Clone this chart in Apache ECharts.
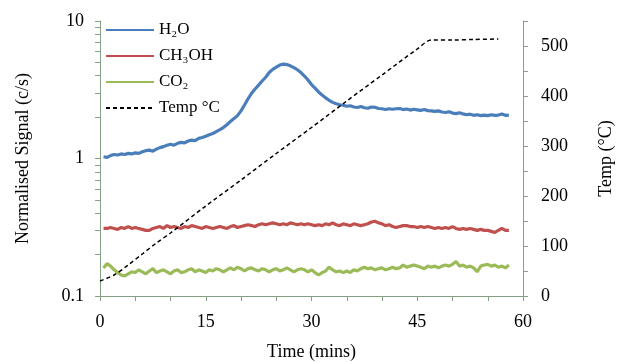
<!DOCTYPE html>
<html><head><meta charset="utf-8">
<script src="https://cdn.jsdelivr.net/npm/echarts@6/dist/echarts.min.js"></script>
<style>html,body{margin:0;padding:0;background:#fff}#c{width:622px;height:362px}</style>
</head><body><div id="c"></div>
<script>
// sampling grid of the signal traces: 0.5 .. 58 min, every 0.5 min
var sampleStart = 0.5, sampleStep = 0.5, sampleCount = 116;
var times = [];
for (var i = 0; i < sampleCount; i++) times.push(+(sampleStart + i * sampleStep).toFixed(1));

var h2o = [
 1.03,1.02,1.05,1.07,1.06,1.08,1.07,1.09,1.08,1.10,
 1.09,1.12,1.14,1.15,1.13,1.17,1.20,1.22,1.25,1.27,
 1.25,1.29,1.31,1.30,1.34,1.36,1.35,1.40,1.42,1.45,
 1.49,1.52,1.57,1.62,1.68,1.76,1.86,1.95,2.05,2.22,
 2.45,2.72,2.98,3.20,3.42,3.66,3.90,4.22,4.45,4.62,
 4.78,4.86,4.82,4.72,4.58,4.42,4.22,3.98,3.72,3.45,
 3.25,3.05,2.90,2.76,2.65,2.56,2.50,2.46,2.44,2.40,
 2.42,2.37,2.35,2.39,2.34,2.32,2.37,2.36,2.31,2.30,
 2.27,2.30,2.28,2.30,2.31,2.27,2.29,2.25,2.28,2.26,
 2.24,2.27,2.23,2.22,2.20,2.22,2.18,2.16,2.19,2.14,
 2.12,2.15,2.11,2.08,2.10,2.06,2.08,2.05,2.07,2.05,
 2.08,2.06,2.07,2.11,2.06,2.07
];
var ch3oh = [
 0.31,0.31,0.315,0.31,0.305,0.315,0.31,0.32,0.31,0.315,
 0.31,0.305,0.30,0.30,0.31,0.315,0.32,0.31,0.325,0.315,
 0.32,0.315,0.31,0.32,0.315,0.325,0.32,0.315,0.31,0.32,
 0.315,0.31,0.315,0.32,0.315,0.31,0.32,0.325,0.315,0.32,
 0.325,0.33,0.325,0.32,0.33,0.335,0.33,0.335,0.34,0.335,
 0.33,0.335,0.33,0.34,0.335,0.33,0.335,0.33,0.335,0.33,
 0.325,0.33,0.325,0.335,0.33,0.34,0.33,0.325,0.335,0.33,
 0.325,0.335,0.33,0.325,0.33,0.335,0.345,0.35,0.34,0.335,
 0.325,0.33,0.32,0.315,0.32,0.325,0.325,0.32,0.32,0.315,
 0.32,0.315,0.32,0.315,0.31,0.315,0.31,0.315,0.31,0.32,
 0.31,0.305,0.31,0.305,0.31,0.305,0.30,0.305,0.30,0.30,
 0.295,0.29,0.30,0.31,0.30,0.30
];
var co2 = [
 0.16,0.172,0.165,0.155,0.148,0.142,0.14,0.145,0.15,0.148,
 0.155,0.15,0.145,0.152,0.158,0.148,0.152,0.155,0.15,0.145,
 0.152,0.155,0.148,0.15,0.155,0.158,0.15,0.155,0.152,0.148,
 0.155,0.152,0.158,0.155,0.15,0.155,0.16,0.155,0.162,0.158,
 0.152,0.158,0.16,0.155,0.152,0.158,0.155,0.15,0.155,0.158,
 0.152,0.155,0.16,0.155,0.15,0.155,0.158,0.155,0.15,0.155,
 0.148,0.142,0.148,0.152,0.162,0.155,0.15,0.152,0.148,0.152,
 0.148,0.155,0.152,0.158,0.162,0.158,0.16,0.155,0.158,0.16,
 0.155,0.158,0.162,0.158,0.16,0.168,0.162,0.165,0.168,0.165,
 0.162,0.158,0.165,0.162,0.165,0.16,0.165,0.168,0.165,0.17,
 0.178,0.165,0.168,0.162,0.165,0.16,0.15,0.165,0.168,0.17,
 0.165,0.168,0.162,0.165,0.16,0.168
];
var tempTimes = [0, 2, 4, 6, 8, 10, 15, 20, 25, 30, 35, 40, 45, 47, 50, 53, 56.5];
var tempVals  = [30, 42, 62, 84, 106, 126, 180, 232, 285, 337, 390, 442, 494, 512, 512, 513, 514];

var xTickLabels = [0, 15, 30, 45, 60];
var leftTickLabels = [0.1, 1, 10];
var leftMinorTicks = [0.1,0.2,0.3,0.4,0.5,0.6,0.7,0.8,0.9,1,2,3,4,5,6,7,8,9,10];
var rightTickLabels = [0, 100, 200, 300, 400, 500];

function pairs(xs, ys) { return ys.map(function (v, k) { return [xs[k], v]; }); }

var font = 'Liberation Serif';
var axisColor = '#86a086';
var chart = echarts.init(document.getElementById('c'), null, { renderer: 'canvas' });
chart.setOption({
  animation: false,
  backgroundColor: '#fff',
  textStyle: { fontFamily: font, color: '#000' },
  grid: { left: 100, right: 99, top: 21, bottom: 66, containLabel: false, outerBoundsMode: 'none' },
  legend: {
    orient: 'vertical', left: 100, top: 16,
    itemWidth: 48, itemHeight: 14, itemGap: 8,
    itemStyle: { opacity: 0 },
    textStyle: { fontFamily: font, fontSize: 17, color: '#000', lineHeight: 18 },
    data: ['H₂O', 'CH₃OH', 'CO₂', 'Temp °C']
  },
  xAxis: {
    type: 'value', min: 0, max: 60, interval: 5,
    name: 'Time (mins)', nameLocation: 'middle', nameGap: 47,
    nameTextStyle: { fontFamily: font, fontSize: 18, color: '#000' },
    axisLine: { show: true, lineStyle: { color: axisColor, width: 1 } },
    axisTick: { show: true, length: 5, lineStyle: { color: axisColor } },
    axisLabel: { customValues: xTickLabels, fontFamily: font, fontSize: 18, color: '#000', margin: 17 },
    splitLine: { show: false }
  },
  yAxis: [{
    type: 'log', logBase: 10, min: 0.1, max: 10, position: 'left',
    name: 'Normalised Signal (c/s)', nameLocation: 'middle', nameGap: 68, nameRotate: 90,
    nameTextStyle: { fontFamily: font, fontSize: 18, color: '#000' },
    axisLine: { show: true, lineStyle: { color: axisColor, width: 1 } },
    axisTick: { show: true, length: 5, customValues: leftMinorTicks, lineStyle: { color: axisColor } },
    axisLabel: { customValues: leftTickLabels, fontFamily: font, fontSize: 18, color: '#000', margin: 16,
      formatter: function (v) { return String(+(+v).toPrecision(3)); } },
    splitLine: { show: false }
  }, {
    type: 'value', min: 0, max: 550, interval: 50, position: 'right',
    name: 'Temp (°C)', nameLocation: 'middle', nameGap: 74, nameRotate: 90,
    nameTextStyle: { fontFamily: font, fontSize: 18, color: '#000' },
    axisLine: { show: true, lineStyle: { color: axisColor, width: 1 } },
    axisTick: { show: true, length: 5, lineStyle: { color: axisColor } },
    axisLabel: { customValues: rightTickLabels, fontFamily: font, fontSize: 18, color: '#000', margin: 18 },
    splitLine: { show: false }
  }],
  series: [
    { name: 'H₂O', type: 'line', yAxisIndex: 0, showSymbol: false, symbol: 'none',
      data: pairs(times, h2o), lineStyle: { color: '#4a7ebb', width: 3.2 }, itemStyle: { color: '#4a7ebb' } },
    { name: 'CH₃OH', type: 'line', yAxisIndex: 0, showSymbol: false, symbol: 'none',
      data: pairs(times, ch3oh), lineStyle: { color: '#c0504d', width: 3.2 }, itemStyle: { color: '#c0504d' } },
    { name: 'CO₂', type: 'line', yAxisIndex: 0, showSymbol: false, symbol: 'none',
      data: pairs(times, co2), lineStyle: { color: '#9bbb59', width: 3.2 }, itemStyle: { color: '#9bbb59' } },
    { name: 'Temp °C', type: 'line', yAxisIndex: 1, showSymbol: false, symbol: 'none', smooth: 0.3,
      data: pairs(tempTimes, tempVals), lineStyle: { color: '#000', width: 1.5, type: [4, 3] }, itemStyle: { color: '#000' } }
  ]
});
</script></body></html>
